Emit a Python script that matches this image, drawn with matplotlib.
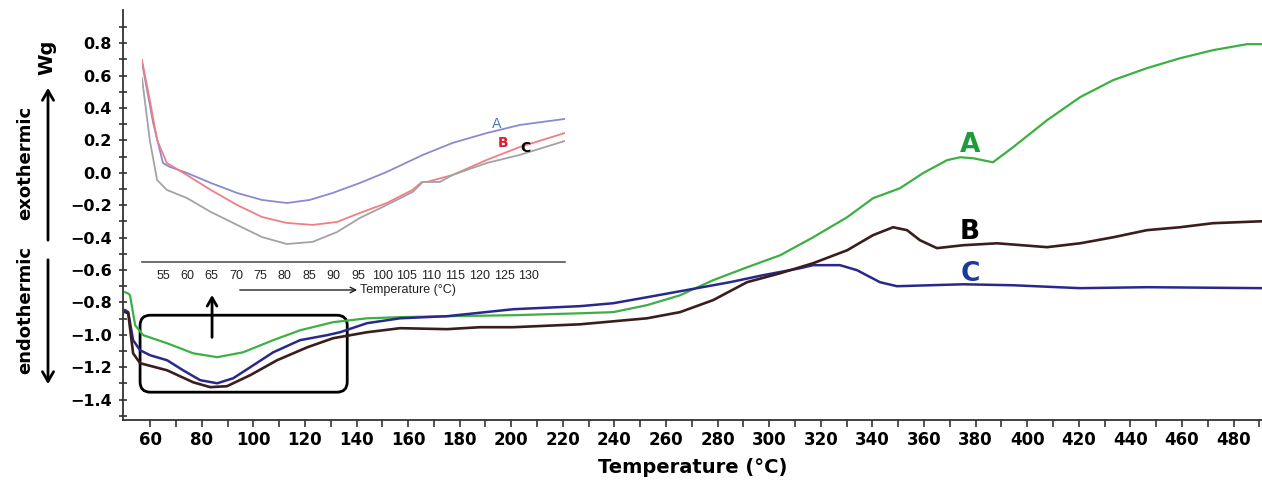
import matplotlib
matplotlib.use('Agg')
import matplotlib.pyplot as plt
from matplotlib.patches import FancyBboxPatch
import numpy as np

# main DSC curves (temperature in degC, heat flow in W/g)
temp_a = [50.3, 51.5, 52.2, 54.2, 57.3, 66.6, 76.7, 86.0, 96.0, 107.7, 118.1, 130.9, 144.1, 156.9,
          175.1, 200.7, 226.7, 239.5, 252.6, 265.4, 278.2, 291.4, 304.2, 317.0, 330.2, 340.2,
          350.7, 359.6, 368.9, 374.0, 379.0, 386.7, 394.5, 407.7, 420.5, 433.3, 446.4, 459.2,
          472.0, 485.2, 491.0]
flow_a = [-0.737, -0.745, -0.756, -0.941, -1.002, -1.052, -1.114, -1.138, -1.108, -1.033, -0.972,
          -0.922, -0.898, -0.891, -0.885, -0.879, -0.867, -0.860, -0.817, -0.756, -0.663, -0.583,
          -0.509, -0.398, -0.274, -0.157, -0.095, -0.002, 0.078, 0.096, 0.090, 0.065, 0.158,
          0.325, 0.467, 0.572, 0.646, 0.707, 0.757, 0.794, 0.794]

temp_b = [50.3, 51.5, 53.4, 56.1, 66.6, 76.7, 83.3, 89.8, 98.8, 109.2, 120.9, 130.9, 144.1, 156.9,
          175.1, 187.9, 200.7, 226.7, 252.6, 265.4, 278.2, 291.4, 304.2, 317.0, 330.2, 340.2,
          348.0, 353.4, 358.4, 365.0, 375.1, 388.3, 407.7, 420.5, 433.3, 446.4, 459.2, 472.0, 491.0]
flow_b = [-0.860, -0.867, -1.114, -1.175, -1.219, -1.293, -1.323, -1.317, -1.249, -1.157, -1.077,
          -1.021, -0.984, -0.959, -0.965, -0.953, -0.953, -0.935, -0.898, -0.860, -0.786, -0.675,
          -0.620, -0.558, -0.478, -0.385, -0.336, -0.354, -0.416, -0.465, -0.447, -0.435, -0.459,
          -0.435, -0.398, -0.354, -0.336, -0.311, -0.299]

temp_c = [50.3, 51.5, 53.4, 56.1, 60.0, 66.6, 72.8, 79.4, 86.0, 92.2, 98.8, 107.7, 118.1, 128.6,
          133.6, 144.1, 156.9, 175.1, 200.7, 226.7, 239.5, 252.6, 272.0, 284.8, 297.6, 311.9,
          317.0, 327.4, 334.0, 342.9, 349.5, 362.3, 375.1, 394.5, 420.5, 446.4, 491.0]
flow_c = [-0.848, -0.860, -1.033, -1.095, -1.126, -1.157, -1.219, -1.280, -1.299, -1.268, -1.200,
          -1.108, -1.033, -1.002, -0.984, -0.928, -0.898, -0.885, -0.842, -0.823, -0.805, -0.768,
          -0.712, -0.675, -0.632, -0.589, -0.570, -0.570, -0.601, -0.675, -0.700, -0.694, -0.688,
          -0.694, -0.712, -0.706, -0.712]

# zoomed inset curves (50-137 degC)
in_temp_a = [50.6, 53.0, 55.0, 56.4, 59.9, 64.8, 70.2, 75.3, 80.4, 85.1, 89.8, 95.4, 100.9, 108.3,
             114.4, 121.4, 128.2, 137.4]
in_flow_a = [0.695, 0.306, 0.059, 0.035, -0.002, -0.064, -0.126, -0.169, -0.188, -0.169, -0.126,
             -0.064, 0.004, 0.109, 0.183, 0.244, 0.294, 0.331]
in_temp_b = [50.7, 52.3, 53.8, 55.8, 59.9, 64.8, 70.2, 75.3, 80.4, 85.7, 90.7, 95.4, 100.9, 106.2,
             108.1, 109.1, 114.4, 121.4, 128.2, 137.4]
in_flow_b = [0.695, 0.448, 0.201, 0.059, -0.015, -0.107, -0.200, -0.274, -0.311, -0.323, -0.305,
             -0.249, -0.188, -0.107, -0.058, -0.058, -0.015, 0.078, 0.158, 0.244]
in_temp_c = [50.7, 52.3, 53.8, 55.8, 59.9, 64.8, 70.2, 75.3, 80.4, 85.7, 90.7, 95.4, 100.9, 106.2,
             108.3, 109.7, 111.8, 114.4, 121.4, 128.2, 137.4]
in_flow_c = [0.584, 0.201, -0.046, -0.107, -0.157, -0.243, -0.323, -0.398, -0.441, -0.428, -0.367,
             -0.280, -0.200, -0.120, -0.058, -0.058, -0.058, -0.015, 0.059, 0.109, 0.195]

x_ticks = list(range(60, 481, 20))
y_ticks = [0.8, 0.6, 0.4, 0.2, 0.0, -0.2, -0.4, -0.6, -0.8, -1.0, -1.2, -1.4]
inset_ticks = list(range(55, 131, 5))

fig = plt.figure(figsize=(12.62, 4.83), dpi=100)
ax = fig.add_axes([0.0975, 0.130, 0.9025, 0.849])

ax.plot(temp_a, flow_a, color='#3cb043', lw=1.6)
ax.plot(temp_c, flow_c, color='#29298c', lw=1.8)
ax.plot(temp_b, flow_b, color='#3b1d1d', lw=1.9)

ax.text(377.8, 0.17, 'A', color='#1f9a3c', fontsize=19, fontweight='bold', ha='center', va='center')
ax.text(377.8, -0.367, 'B', color='black', fontsize=19, fontweight='bold', ha='center', va='center')
ax.text(377.8, -0.626, 'C', color='#1c3a9c', fontsize=19, fontweight='bold', ha='center', va='center')

ax.set_xlim(49.5, 491)
ax.set_ylim(-1.527, 1.004)
ax.set_xticks(x_ticks)
ax.set_xticks(np.arange(60, 491, 10), minor=True)
ax.set_yticks(y_ticks)
ax.set_yticks(np.arange(-1.5, 1.0, 0.1), minor=True)
ax.set_yticklabels([f'{v:.1f}'.replace('-', '\u2212') for v in y_ticks])
for lab in ax.get_xticklabels() + ax.get_yticklabels():
    lab.set_fontweight('bold')
ax.tick_params(axis='x', which='both', direction='out', length=5, width=1.2, labelsize=12, pad=3,
               color='#333333')
ax.tick_params(axis='y', which='both', direction='inout', length=6, width=1.2, labelsize=11.5, pad=5,
               color='#333333')
for side in ['top', 'right']:
    ax.spines[side].set_visible(False)
for side in ['left', 'bottom']:
    ax.spines[side].set_color('#333333')
    ax.spines[side].set_linewidth(1.3)
ax.set_xlabel('Temperature (°C)', fontsize=14, fontweight='bold', labelpad=6)

# rounded box around the zoomed region and arrow up to the inset
box = FancyBboxPatch((56.1, -1.354), 80.3, 0.475,
                     boxstyle='round,pad=0,rounding_size=4', mutation_aspect=0.0159,
                     fill=False, ec='black', lw=2)
ax.add_patch(box)
ax.annotate('', xy=(84, -0.737), xytext=(84, -1.033),
            arrowprops=dict(arrowstyle='->,head_length=0.6,head_width=0.35', lw=2, color='black'))

# inset
ax_in = fig.add_axes([0.1125, 0.4576, 0.335, 0.439])
ax_in.patch.set_alpha(0)
ax_in.plot(in_temp_a, in_flow_a, color='#8a8ad2', lw=1.3)
ax_in.plot(in_temp_b, in_flow_b, color='#ef7f86', lw=1.3)
ax_in.plot(in_temp_c, in_flow_c, color='#a3a3a3', lw=1.3)
ax_in.text(123.4, 0.30, 'A', color='#4a78c8', fontsize=10, ha='center', va='center')
ax_in.text(124.7, 0.183, 'B', color='#e01c30', fontsize=10, fontweight='bold', ha='center', va='center')
ax_in.text(129.4, 0.152, 'C', color='black', fontsize=10, fontweight='bold', ha='center', va='center')
ax_in.set_xlim(50.7, 137.4)
ax_in.set_ylim(-0.552, 0.757)
ax_in.set_xticks(inset_ticks)
ax_in.set_yticks([])
for side in ['top', 'right', 'left']:
    ax_in.spines[side].set_visible(False)
ax_in.spines['bottom'].set_color('#555555')
ax_in.spines['bottom'].set_linewidth(1.2)
ax_in.tick_params(axis='x', length=0, pad=6, labelsize=9, labelcolor='#222222')
for lab in ax_in.get_xticklabels():
    lab.set_fontfamily('Liberation Sans')

ax_in.annotate('', xy=(360, 483 - 290), xytext=(237, 483 - 290), xycoords='figure pixels',
               arrowprops=dict(arrowstyle='->,head_length=0.4,head_width=0.2', lw=1, color='#222222'))
fig.text(360 / 1262, 1 - 290 / 483, 'Temperature (°C)', fontsize=9, family='Liberation Sans',
         ha='left', va='center', color='#222222')

# left side labels
fig.text(47 / 1262, 1 - 57 / 483, 'Wg', rotation=90, fontsize=14, fontweight='bold',
         ha='center', va='center')
fig.text(25 / 1262, 1 - 163 / 483, 'exothermic', rotation=90, fontsize=13, fontweight='bold',
         ha='center', va='center')
fig.text(25 / 1262, 1 - 310 / 483, 'endothermic', rotation=90, fontsize=13, fontweight='bold',
         ha='center', va='center')
ax.annotate('', xy=(48, 483 - 85), xytext=(48, 483 - 243), xycoords='figure pixels',
            arrowprops=dict(arrowstyle='->,head_length=0.7,head_width=0.4', lw=2, color='black'))
ax.annotate('', xy=(48, 483 - 387), xytext=(48, 483 - 257), xycoords='figure pixels',
            arrowprops=dict(arrowstyle='->,head_length=0.7,head_width=0.4', lw=2, color='black'))

fig.savefig('out.png', dpi=100)
